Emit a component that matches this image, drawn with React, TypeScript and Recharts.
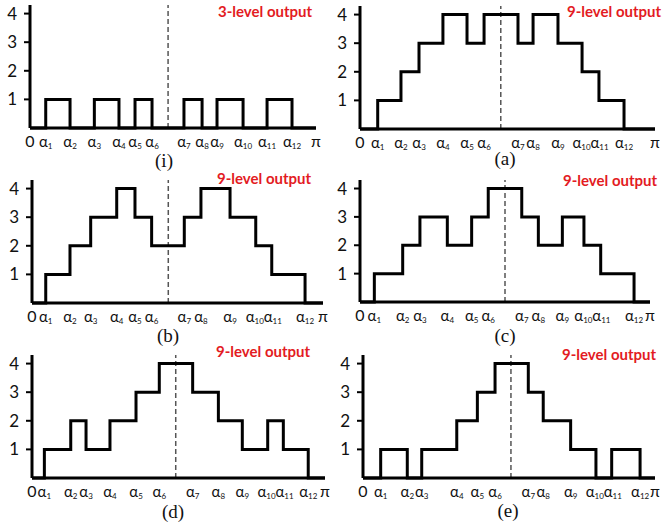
import React from 'react';
import { LineChart, Line, XAxis, YAxis, ReferenceLine } from 'recharts';

// switching angles in degrees (axis 0..180 = 0..π)
const anglesI = [9.9, 25.2, 40.5, 56.0, 66.1, 76.8, 96.9, 108.3, 117.7, 134.1, 149.2, 164.9];
const anglesA = [10.8, 25.0, 36.0, 50.6, 65.3, 75.7, 96.4, 105.6, 120.8, 135.5, 145.8, 161.1];
const anglesB = [8.5, 23.5, 36.3, 52.4, 63.7, 74.0, 94.2, 104.5, 122.5, 138.4, 148.3, 168.9];
const anglesC = [8.9, 26.5, 37.2, 54.2, 69.3, 79.6, 100.4, 110.7, 125.6, 139.0, 149.4, 170.1];
const anglesD = [7.6, 23.8, 33.2, 47.9, 63.9, 78.2, 98.7, 114.5, 129.2, 144.8, 154.4, 169.7];
const anglesE = [10.9, 27.3, 36.2, 57.8, 70.5, 81.4, 101.9, 111.1, 128.0, 143.6, 153.3, 170.8];

// output level right after each switching angle
const levelsI = [1, 0, 1, 0, 1, 0, 1, 0, 1, 0, 1, 0];
const levelsA = [1, 2, 3, 4, 3, 4, 3, 4, 3, 2, 1, 0];
const levelsB = [1, 2, 3, 4, 3, 2, 3, 4, 3, 2, 1, 0];
const levelsC = [1, 2, 3, 2, 3, 4, 3, 2, 3, 2, 1, 0];
const levelsD = [1, 2, 1, 2, 3, 4, 3, 2, 1, 2, 1, 0];
const levelsE = [1, 0, 1, 2, 3, 4, 3, 2, 1, 0, 1, 0];

// dashed quarter-wave line position
const midLines = { i: 86.9, a: 85.9, b: 84.3, c: 90.0, d: 88.3, e: 91.2 };

const levelTicks = [1, 2, 3, 4];
const captions = ['(i)', '(a)', '(b)', '(c)', '(d)', '(e)'];
const titles = ['3-level output', '9-level output', '9-level output', '9-level output', '9-level output', '9-level output'];

const FONT = "Lato, 'Noto Sans', 'Open Sans', sans-serif";
const RED = '#e31b23';

const panels = [
  { key: 'i', angles: anglesI, levels: levelsI, left: 30, right: 316, top: 5, bottom: 128, cap: [164, 161], title: [218, 11] },
  { key: 'a', angles: anglesA, levels: levelsA, left: 360, right: 655, top: 6, bottom: 129, cap: [505, 159], title: [567, 11] },
  { key: 'b', angles: anglesB, levels: levelsB, left: 32, right: 323, top: 180, bottom: 303, cap: [168, 336], title: [217, 178] },
  { key: 'c', angles: anglesC, levels: levelsC, left: 360, right: 650, top: 180, bottom: 302, cap: [505, 336], title: [563, 180] },
  { key: 'd', angles: anglesD, levels: levelsD, left: 32, right: 325, top: 355, bottom: 478, cap: [173, 512], title: [216, 351] },
  { key: 'e', angles: anglesE, levels: levelsE, left: 363, right: 655, top: 355, bottom: 478, cap: [508, 511], title: [562, 354] },
];

// spread crowded tick labels apart a little (returns pixel shift per tick)
function labelShifts(ticks: number[], plotW: number) {
  const orig = ticks.map((v) => (v / 180) * plotW);
  const widths = ticks.map((v, i) => (i === 0 || i === ticks.length - 1 ? 8 : i >= 10 ? 17 : 13));
  const c = [...orig];
  for (let it = 0; it < 30; it++) {
    for (let i = 0; i < c.length - 1; i++) {
      const need = (widths[i] + widths[i + 1]) / 2 + 1;
      const d = need - (c[i + 1] - c[i]);
      if (d > 0) {
        c[i] -= d / 2;
        c[i + 1] += d / 2;
      }
    }
  }
  return c.map((x, i) => x - orig[i]);
}

function Panel({ p, idx }: any) {
  const data = [{ x: 0, y: 0 }, ...p.angles.map((a: number, i: number) => ({ x: a, y: p.levels[i] })), { x: 180, y: 0 }];
  const ticks = [0, ...p.angles, 180];
  const w = p.right - p.left + 30 + 8;
  const h = p.bottom - p.top + 5 + 30;
  const shifts = labelShifts(ticks, p.right - p.left);

  const renderTick = (props: any) => {
    const { x, y, payload } = props;
    const v = payload.value;
    const i = ticks.indexOf(v);
    const lx = x + (shifts[i] || 0);
    if (i === 0 || i === ticks.length - 1) {
      return (
        <text x={lx} y={y + 19} textAnchor="middle" fontSize={16} fontFamily={FONT} fill="#111">
          {i === 0 ? '0' : 'π'}
        </text>
      );
    }
    return (
      <text x={lx} y={y + 19} textAnchor="middle" fontSize={15} fontFamily={FONT} fill="#111">
        <tspan>α</tspan>
        <tspan fontSize={8} dy={2}>{i}</tspan>
      </text>
    );
  };

  return (
    <>
      <div style={{ position: 'absolute', left: p.left - 30, top: p.top - 5 }}>
        <LineChart width={w} height={h} data={data} margin={{ top: 5, right: 8, bottom: 0, left: 0 }}>
          <XAxis
            type="number"
            dataKey="x"
            domain={[0, 180]}
            ticks={ticks}
            interval={0}
            tick={renderTick}
            tickLine={false}
            tickSize={0}
            tickMargin={0}
            height={30}
            axisLine={{ stroke: '#000', strokeWidth: 3 }}
          />
          <YAxis
            type="number"
            domain={[0, 4.3]}
            ticks={levelTicks}
            interval={0}
            width={30}
            tickSize={6}
            tickMargin={7}
            tickLine={{ stroke: '#000', strokeWidth: 2 }}
            axisLine={{ stroke: '#000', strokeWidth: 3 }}
            tick={{ fontSize: 17, fontFamily: FONT, fill: '#111' }}
          />
          <ReferenceLine x={midLines[p.key as keyof typeof midLines]} stroke="#555" strokeWidth={1.5} strokeDasharray="5 3" />
          <Line type="stepAfter" dataKey="y" stroke="#000" strokeWidth={3} dot={false} isAnimationActive={false} />
        </LineChart>
      </div>
      <div style={{ position: 'absolute', left: p.title[0], top: p.title[1] - 9, color: RED, fontFamily: FONT, fontWeight: 700, fontSize: 15, lineHeight: '18px', whiteSpace: 'nowrap' }}>
        {titles[idx]}
      </div>
      <div style={{ position: 'absolute', left: p.cap[0] - 20, top: p.cap[1] - 11, width: 40, textAlign: 'center', fontFamily: "'Liberation Serif', serif", fontSize: 19, lineHeight: '22px', color: '#111' }}>
        {captions[idx]}
      </div>
    </>
  );
}

export default function App() {
  return (
    <div style={{ position: 'absolute', left: 0, top: 0, width: 664, height: 529, background: '#fff', overflow: 'hidden' }}>
      {panels.map((p, i) => (
        <Panel key={p.key} p={p} idx={i} />
      ))}
    </div>
  );
}
